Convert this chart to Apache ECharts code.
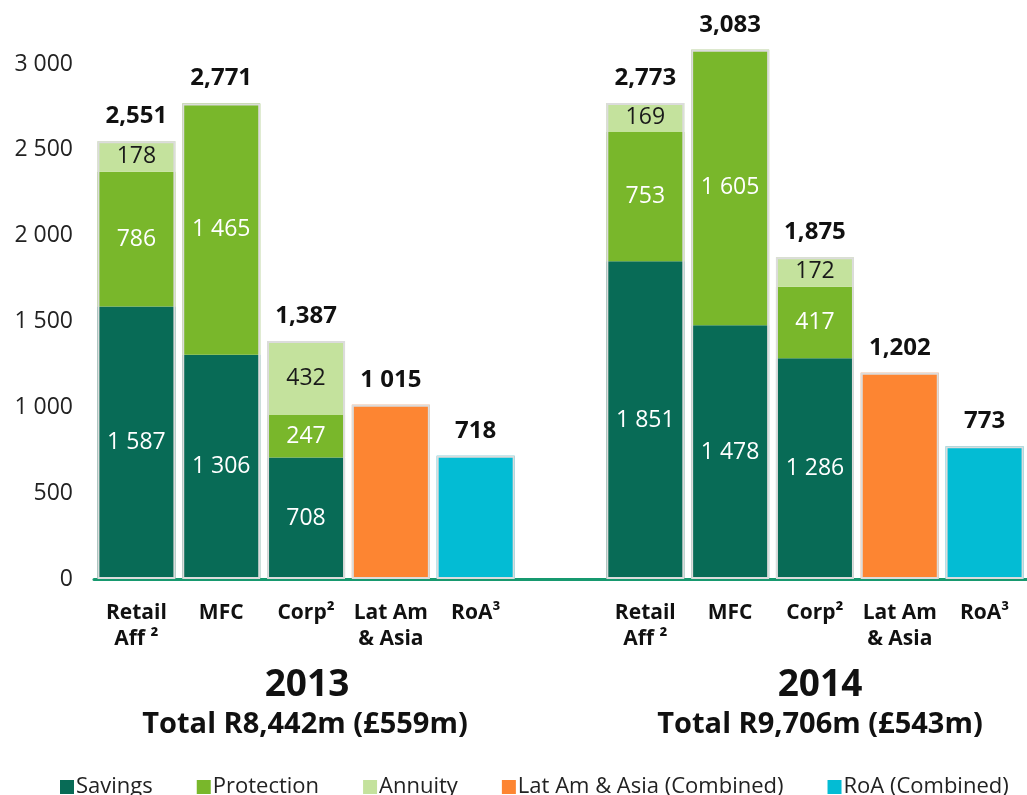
<!DOCTYPE html>
<html>
<head>
<meta charset="utf-8">
<title>Operating profit by business</title>
<script src="https://cdn.jsdelivr.net/npm/echarts@6/dist/echarts.min.js"></script>
<style>
  html, body { margin: 0; padding: 0; background: #fff; }
  #chart { width: 1027px; height: 795px; }
</style>
</head>
<body>
<div id="chart"></div>
<script>
// categories: 2013 block, an empty slot, then 2014 block
const categories = ['Retail\nAff ²', 'MFC', 'Corp²', 'Lat Am\n& Asia', 'RoA³', '',
  'Retail\nAff ²', 'MFC', 'Corp²', 'Lat Am\n& Asia', 'RoA³'];

const savings    = [1587, 1306, 708, null, null, null, 1851, 1478, 1286, null, null];
const protection = [786, 1465, 247, null, null, null, 753, 1605, 417, null, null];
const annuity    = [178, null, 432, null, null, null, 169, null, 172, null, null];
const latAm      = [null, null, null, 1015, null, null, null, null, null, 1202, null];
const roa        = [null, null, null, null, 718, null, null, null, null, null, 773];

// total labels exactly as printed on the slide
const totalLabels = ['2,551', '2,771', '1,387', '1 015', '718', '',
  '2,773', '3,083', '1,875', '1,202', '773'];

const yearTitles = ['2013', '2014'];
const yearTotals = ['Total R8,442m (£559m)', 'Total R9,706m (£543m)'];

const FONT = '"Open Sans", "DejaVu Sans", sans-serif';

const totals = categories.map((c, i) => {
  const s = [savings, protection, annuity, latAm, roa].reduce((a, arr) => a + (arr[i] || 0), 0);
  return s ? s : null;
});

const spaced = v => String(v).replace(/\B(?=(\d{3})+(?!\d))/g, ' ');

function segment(name, data, color, labelColor) {
  return {
    name,
    type: 'bar',
    stack: 'a',
    data,
    barWidth: 78,
    barGap: '-100%',
    itemStyle: { color },
    label: {
      show: !!labelColor,
      position: 'inside',
      color: labelColor,
      fontSize: 23,
      fontFamily: FONT,
      formatter: p => (p.value == null ? '' : spaced(p.value))
    }
  };
}

const chart = echarts.init(document.getElementById('chart'), null, { renderer: 'canvas' });

chart.setOption({
  animation: false,
  textStyle: { fontFamily: FONT },
  grid: { left: 94, right: -9, top: 4, bottom: 216 },
  legend: {
    data: ['Savings', 'Protection', 'Annuity', 'Lat Am & Asia (Combined)', 'RoA (Combined)'],
    left: 55,
    top: 771,
    icon: 'rect',
    itemWidth: 14,
    itemHeight: 14,
    itemGap: 44,
    textStyle: { fontSize: 22, color: '#222', fontFamily: FONT, padding: [0, 0, 0, -3] }
  },
  xAxis: {
    type: 'category',
    data: categories,
    axisLine: { lineStyle: { color: '#17996f', width: 3 } },
    axisTick: { show: false },
    axisLabel: {
      interval: 0,
      margin: 21,
      fontSize: 21,
      lineHeight: 26,
      fontWeight: 'bold',
      color: '#111',
      fontFamily: FONT
    }
  },
  yAxis: {
    type: 'value',
    min: 0,
    max: 3350,
    interval: 500,
    splitLine: { show: false },
    axisLine: { show: false },
    axisTick: { show: false },
    axisLabel: {
      margin: 21,
      fontSize: 23,
      color: '#222',
      fontFamily: FONT,
      formatter: v => (v > 3000 ? '' : spaced(v))
    }
  },
  series: [
    segment('Savings', savings, '#086b56', '#fff'),
    segment('Protection', protection, '#79b72b', '#fff'),
    segment('Annuity', annuity, '#c4e29d', '#1a1a1a'),
    segment('Lat Am & Asia (Combined)', latAm, '#fd8532', null),
    segment('RoA (Combined)', roa, '#03bcd4', null),
    {
      name: 'Total',
      type: 'bar',
      data: totals,
      barWidth: 78,
      barGap: '-100%',
      silent: true,
      z: 3,
      itemStyle: { color: 'rgba(0,0,0,0)', borderColor: '#dcdcdc', borderWidth: 2 },
      label: {
        show: true,
        position: 'top',
        distance: 13,
        fontSize: 24,
        fontWeight: 'bold',
        color: '#111',
        fontFamily: FONT,
        formatter: p => totalLabels[p.dataIndex]
      }
    }
  ],
  graphic: [
    { type: 'text', x: 307, y: 667, style: { text: yearTitles[0], align: 'center', font: 'bold 37px ' + FONT, fill: '#111' } },
    { type: 'text', x: 305, y: 710, style: { text: yearTotals[0], align: 'center', font: 'bold 29px ' + FONT, fill: '#111' } },
    { type: 'text', x: 820, y: 667, style: { text: yearTitles[1], align: 'center', font: 'bold 37px ' + FONT, fill: '#111' } },
    { type: 'text', x: 820, y: 710, style: { text: yearTotals[1], align: 'center', font: 'bold 29px ' + FONT, fill: '#111' } }
  ]
});
</script>
</body>
</html>
